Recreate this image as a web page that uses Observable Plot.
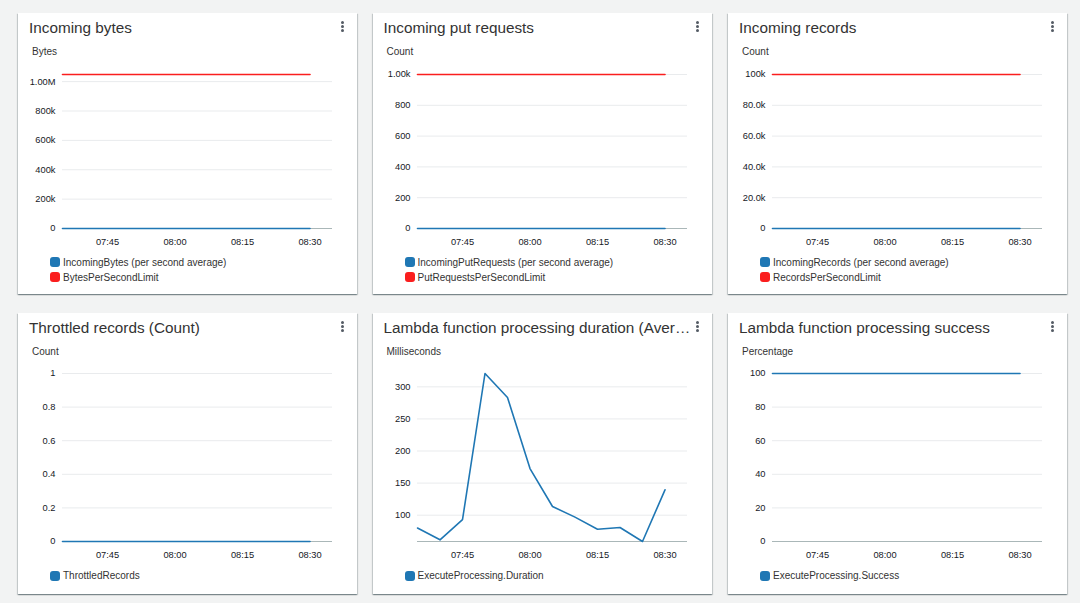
<!DOCTYPE html>
<html>
<head>
<meta charset="utf-8">
<script src="https://cdn.jsdelivr.net/npm/d3@7"></script>
<script src="https://cdn.jsdelivr.net/npm/@observablehq/plot@0.6"></script>
<style>
  html, body { margin: 0; padding: 0; }
  body { width: 1080px; height: 603px; background: #f2f3f3; position: relative; overflow: hidden;
         font-family: "Liberation Sans", Arial, sans-serif; }
  .panel { position: absolute; width: 339px; height: 281px; background: #fff;
           box-shadow: 0 1px 1px 0 rgba(0,28,36,0.30), 1px 1px 1px 0 rgba(0,28,36,0.15), -1px 1px 1px 0 rgba(0,28,36,0.15); }
  .title { position: absolute; left: 11px; top: 5.5px; font-size: 15.3px; color: #333; white-space: nowrap;
           line-height: 19px; }
  .kebab { position: absolute; left: 323px; top: 8px; width: 4px; }
  .kebab span { display: block; width: 3.2px; height: 3.2px; border-radius: 50%; background: #545b64; margin-bottom: 1.1px; }
  .unit { position: absolute; left: 14px; top: 32.5px; font-size: 10px; color: #333; line-height: 13px; }
  .chart { position: absolute; left: 0; }
  .legend { position: absolute; left: 32px; font-size: 10px; color: #333; }
  .legend div { height: 15px; line-height: 15px; display: flex; align-items: center; }
  .legend i { display: inline-block; width: 10px; height: 10px; border-radius: 3px; margin-right: 3px; }
</style>
</head>
<body>
<script>
// ---- data ----
const times = ["07:35","07:40","07:45","07:50","07:55","08:00","08:05","08:10","08:15","08:20","08:25","08:30"];
const xDomainLabels = ["07:35","08:35"];
const xTickLabels = ["07:45","08:00","08:15","08:30"];

const incomingBytes        = [0,0,0,0,0,0,0,0,0,0,0,0];
const bytesPerSecondLimit  = [1048576,1048576,1048576,1048576,1048576,1048576,1048576,1048576,1048576,1048576,1048576,1048576];
const incomingPutRequests  = [0,0,0,0,0,0,0,0,0,0,0,0];
const putRequestsLimit     = [1000,1000,1000,1000,1000,1000,1000,1000,1000,1000,1000,1000];
const incomingRecords      = [0,0,0,0,0,0,0,0,0,0,0,0];
const recordsLimit         = [100000,100000,100000,100000,100000,100000,100000,100000,100000,100000,100000,100000];
const throttledRecords     = [0,0,0,0,0,0,0,0,0,0,0,0];
const executeDuration      = [80,61.6,93,320.8,283.4,172.7,113.5,97,78.2,80.8,59,139.5];
const executeSuccess       = [100,100,100,100,100,100,100,100,100,100,100,100];

const titles = ["Incoming bytes","Incoming put requests","Incoming records","Throttled records (Count)",
                "Lambda function processing duration (Aver\u2026","Lambda function processing success"];
const units = ["Bytes","Count","Count","Count","Milliseconds","Percentage"];

const yTicks1 = [0,200000,400000,600000,800000,1000000];
const yLabels1 = ["0","200k","400k","600k","800k","1.00M"];
const yTicks2 = [0,200,400,600,800,1000];
const yLabels2 = ["0","200","400","600","800","1.00k"];
const yTicks3 = [0,20000,40000,60000,80000,100000];
const yLabels3 = ["0","20.0k","40.0k","60.0k","80.0k","100k"];
const yTicks4 = [0,0.2,0.4,0.6,0.8,1];
const yLabels4 = ["0","0.2","0.4","0.6","0.8","1"];
const yTicks5 = [100,150,200,250,300];
const yLabels5 = ["100","150","200","250","300"];
const yTicks6 = [0,20,40,60,80,100];
const yLabels6 = ["0","20","40","60","80","100"];
const yDomain4 = [0,1];

const blue = "#1f77b4", red = "#fa1e1e";

// ---- build ----
const parseT = d3.utcParse("%H:%M");
const fmtT = d3.utcFormat("%H:%M");
const xDomain = xDomainLabels.map(parseT);
const xTicks = xTickLabels.map(parseT);

function series(values, name, color) {
  return {name, color, data: times.map((t, i) => ({t: parseT(t), v: values[i]}))};
}

const panels = [
  {series: [series(incomingBytes, "IncomingBytes (per second average)", blue), series(bytesPerSecondLimit, "BytesPerSecondLimit", red)],
   ticks: yTicks1, labels: yLabels1, domain: [0, d3.max(bytesPerSecondLimit)]},
  {series: [series(incomingPutRequests, "IncomingPutRequests (per second average)", blue), series(putRequestsLimit, "PutRequestsPerSecondLimit", red)],
   ticks: yTicks2, labels: yLabels2, domain: [0, d3.max(putRequestsLimit)]},
  {series: [series(incomingRecords, "IncomingRecords (per second average)", blue), series(recordsLimit, "RecordsPerSecondLimit", red)],
   ticks: yTicks3, labels: yLabels3, domain: [0, d3.max(recordsLimit)]},
  {series: [series(throttledRecords, "ThrottledRecords", blue)],
   ticks: yTicks4, labels: yLabels4, domain: yDomain4},
  {series: [series(executeDuration, "ExecuteProcessing.Duration", blue)],
   ticks: yTicks5, labels: yLabels5, domain: d3.extent(executeDuration)},
  {series: [series(executeSuccess, "ExecuteProcessing.Success", blue)],
   ticks: yTicks6, labels: yLabels6, domain: [0, d3.max(executeSuccess)]}
];

const colLeft = [18, 372.5, 728];
const rowTop = [12.5, 312.5];

panels.forEach((p, k) => {
  const row = Math.floor(k / 3), col = k % 3;
  const el = document.createElement("div");
  el.className = "panel";
  el.style.left = colLeft[col] + "px";
  el.style.top = rowTop[row] + "px";
  document.body.appendChild(el);

  const title = document.createElement("div");
  title.className = "title"; title.textContent = titles[k];
  el.appendChild(title);

  const keb = document.createElement("div");
  keb.className = "kebab"; keb.innerHTML = "<span></span><span></span><span></span>";
  el.appendChild(keb);

  const unit = document.createElement("div");
  unit.className = "unit"; unit.textContent = units[k];
  el.appendChild(unit);

  const svgTop = row === 0 ? 49 : 48;
  const height = row === 0 ? 196 : 210;
  const labelMap = new Map(p.ticks.map((t, i) => [t, p.labels[i]]));

  const marks = [
    Plot.gridY(p.ticks, {stroke: "#e9ebed", strokeOpacity: 1}),
    Plot.ruleY([p.domain[0]], {stroke: "#aab7b8", strokeWidth: 1}),
    Plot.axisY(p.ticks, {tickSize: 0, tickPadding: 7, tickFormat: d => labelMap.get(d), label: null,
                         fontSize: 9.3, fill: "#16191f"}),
    Plot.axisX(xTicks, {tickSize: 0, tickPadding: 9.5, tickFormat: fmtT, label: null, fontSize: 9.3, fill: "#16191f"})
  ];
  p.series.forEach(s => {
    marks.push(Plot.line(s.data, {x: "t", y: "v", stroke: s.color, strokeWidth: 1.6}));
  });

  const chart = Plot.plot({
    width: 339, height,
    marginLeft: 44, marginRight: 25, marginTop: 12, marginBottom: 30,
    x: {type: "utc", domain: xDomain},
    y: {domain: p.domain},
    style: {fontFamily: "'Liberation Sans', Arial, sans-serif", background: "transparent", overflow: "visible"},
    marks
  });
  chart.classList.add("chart");
  chart.style.top = svgTop + "px";
  el.appendChild(chart);

  const leg = document.createElement("div");
  leg.className = "legend";
  leg.style.top = (row === 0 ? 242 : 255.5) + "px";
  p.series.forEach(s => {
    const d = document.createElement("div");
    const sw = document.createElement("i"); sw.style.background = s.color;
    d.appendChild(sw);
    d.appendChild(document.createTextNode(s.name));
    leg.appendChild(d);
  });
  el.appendChild(leg);
});
</script>
</body>
</html>
